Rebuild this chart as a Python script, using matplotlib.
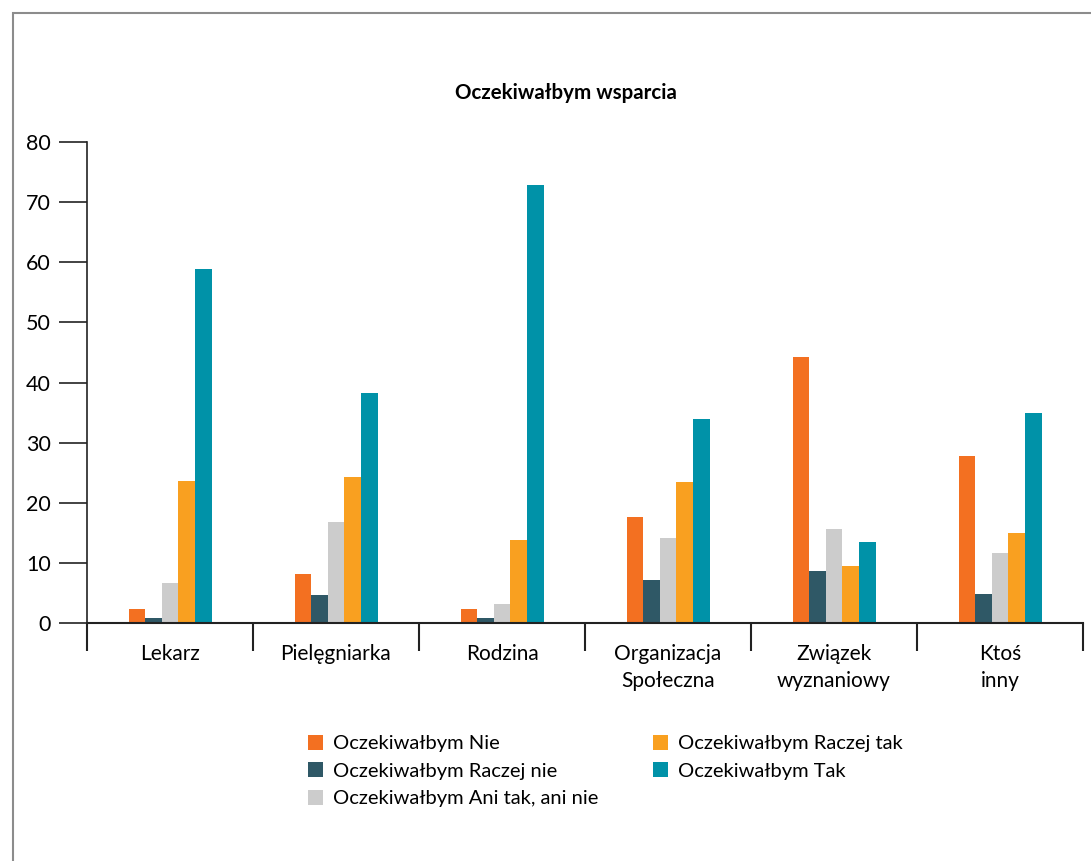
import matplotlib
matplotlib.use("Agg")
import matplotlib.pyplot as plt
import numpy as np
from matplotlib.patches import Rectangle, Patch

plt.rcParams['font.family'] = ['Lato', 'DejaVu Sans']

categories = ["Lekarz", "Pielęgniarka", "Rodzina", "Organizacja\nSpołeczna", "Związek\nwyznaniowy", "Ktoś\ninny"]
series_names = ["Oczekiwałbym Nie", "Oczekiwałbym Raczej nie", "Oczekiwałbym Ani tak, ani nie",
                "Oczekiwałbym Raczej tak", "Oczekiwałbym Tak"]
nie = [2.3, 8.2, 2.3, 17.6, 44.3, 27.8]
raczej_nie = [0.9, 4.6, 0.9, 7.1, 8.6, 4.9]
ani = [6.6, 16.8, 3.1, 14.1, 15.6, 11.6]
raczej_tak = [23.6, 24.3, 13.8, 23.4, 9.4, 14.9]
tak = [58.9, 38.3, 72.9, 34.0, 13.4, 34.9]
colors = ["#F37021", "#2F5866", "#CCCCCC", "#F9A020", "#0092A8"]
yticks = [0, 10, 20, 30, 40, 50, 60, 70, 80]

series = [nie, raczej_nie, ani, raczej_tak, tak]

fig = plt.figure(figsize=(10.91, 8.61), dpi=100)
fig.patches.append(Rectangle((13/1091, -0.1), 1.2, 1 - 13/861 + 0.1, transform=fig.transFigure,
                             fill=False, edgecolor="#8C8C8C", linewidth=1.5))
ax = fig.add_axes([87/1091, 1 - 623/861, (1083 - 87)/1091, (623 - 142)/861])

x = np.arange(len(categories))
w = 0.1
for i, (vals, c) in enumerate(zip(series, colors)):
    ax.bar(x + (i - 2) * w, vals, width=w, color=c, label=series_names[i], linewidth=0)

ax.set_xlim(-0.5, len(categories) - 0.5)
ax.set_ylim(0, 80)
ax.set_yticks(yticks)
ax.set_xticks(x)
ax.set_xticklabels(categories, fontsize=15, linespacing=1.45)
ax.set_xticks(np.arange(-0.5, len(categories), 1), minor=True)
ax.tick_params(axis='x', which='major', length=0, pad=15)
ax.tick_params(axis='x', which='minor', length=20, width=1.5, color="#222222")
ax.tick_params(axis='y', length=20, width=1.2, labelsize=15.5, pad=6, color="#222222")
for s in ['top', 'right']:
    ax.spines[s].set_visible(False)
ax.spines['left'].set_linewidth(1.2)
ax.spines['bottom'].set_linewidth(1.5)
ax.spines['left'].set_color("#222222")
ax.spines['bottom'].set_color("#222222")

fig.text(566/1091, 1 - 93/861, "Oczekiwałbym wsparcia", ha='center', va='center',
         fontsize=14.8, fontweight='bold')

handles = [Patch(facecolor=c, edgecolor='none') for c in colors]
fig.legend(handles, series_names, ncol=2, loc='center', bbox_to_anchor=(605/1091, 1 - 771/861),
           frameon=False, fontsize=14.5, handlelength=0.75, handleheight=0.75,
           handletextpad=0.5, columnspacing=2.7, labelspacing=0.5)

fig.savefig("out.png", dpi=100)
